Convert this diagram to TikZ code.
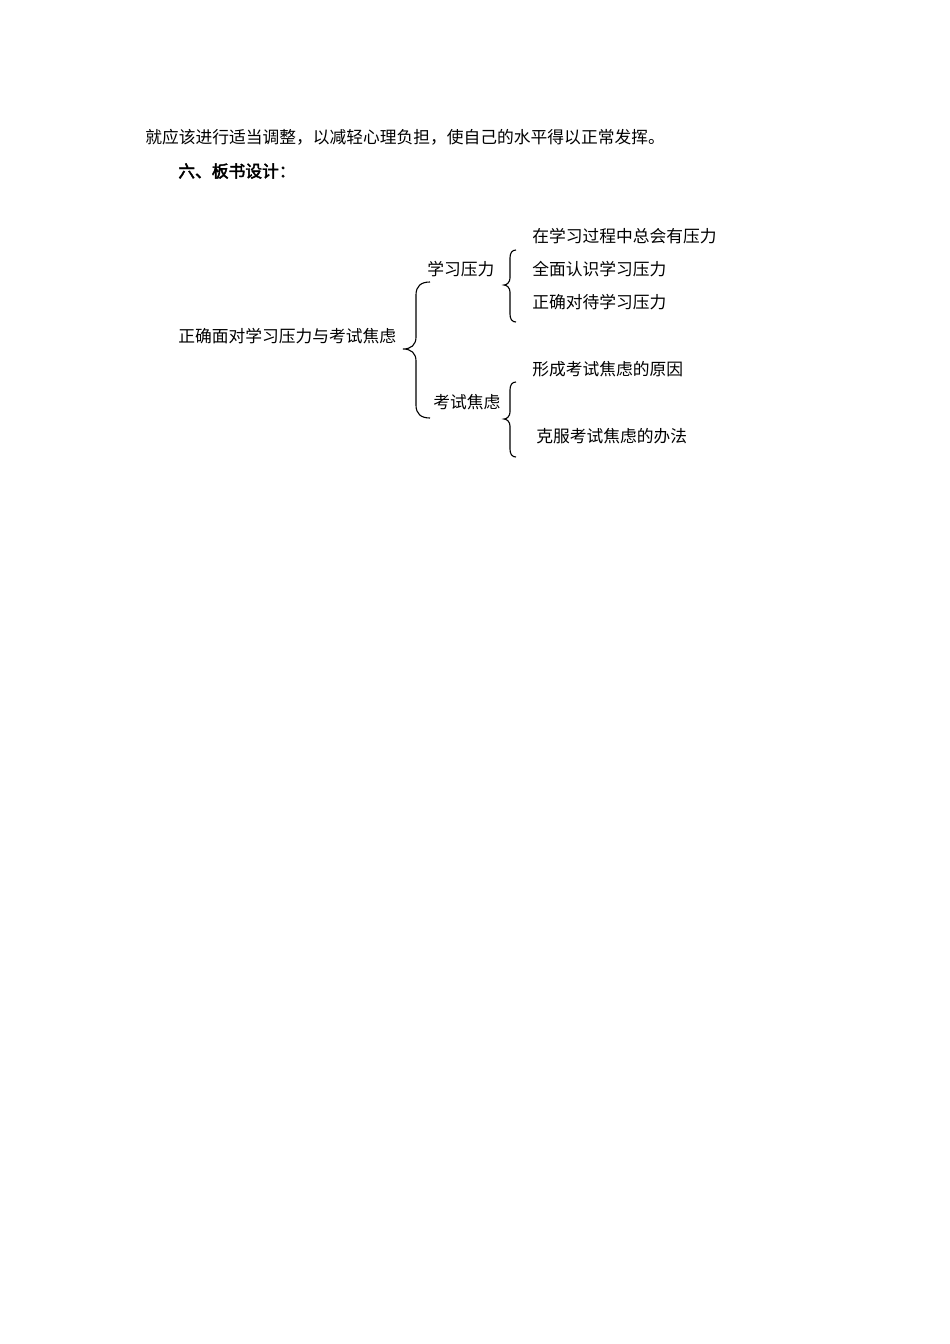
\documentclass[tikz,border=0pt]{standalone}
\usepackage{fontspec}
\newfontfamily\cjk[AutoFakeBold=2.5]{Noto Sans CJK SC}
\begin{document}
\begin{tikzpicture}[x=0.6266pt,y=-0.6266pt,
  txt/.style={anchor=west,inner sep=0pt,font=\cjk\fontsize{10.5pt}{12pt}\selectfont},
  head/.style={txt,font=\cjk\bfseries\fontsize{10.5pt}{12pt}\selectfont},
  bracepath/.style={draw=black,line width=0.7pt}]
\useasboundingbox[fill=white] (0,0) rectangle (950,1344);
\node[txt] (l1) at (145,137) {就应该进行适当调整，以减轻心理负担，使自己的水平得以正常发挥。};
\node[head] (h) at (178,171) {六、板书设计：};
\node[txt] (root) at (178,336) {正确面对学习压力与考试焦虑};
\node[txt] (a) at (427,269) {学习压力};
\node[txt] (b) at (433,402) {考试焦虑};
\node[txt] (a1) at (532,236) {在学习过程中总会有压力};
\node[txt] (a2) at (532,269) {全面认识学习压力};
\node[txt] (a3) at (532,302) {正确对待学习压力};
\node[txt] (b1) at (532,369) {形成考试焦虑的原因};
\node[txt] (b2) at (536,436) {克服考试焦虑的办法};
% big brace
\coordinate (B0t) at (430,282);
\coordinate (B0m) at (403,349);
\coordinate (B0b) at (430,418);
\draw[bracepath] (B0t) .. controls (421,282) and (416,286) .. (416,295) -- (416,337)
  .. controls (416,345) and (411,349) .. (B0m) .. controls (411,349) and (416,353) .. (416,361)
  -- (416,405) .. controls (416,414) and (421,418) .. (B0b);
% brace 1
\coordinate (B1t) at (516,250);
\coordinate (B1m) at (504,285);
\coordinate (B1b) at (516,322);
\draw[bracepath] (B1t) .. controls (512,250) and (510,253) .. (510,258) -- (510,278)
  .. controls (510,282) and (507,285) .. (B1m) .. controls (507,285) and (510,288) .. (510,292)
  -- (510,314) .. controls (510,319) and (512,322) .. (B1b);
% brace 2
\coordinate (B2t) at (516,382);
\coordinate (B2m) at (504,419);
\coordinate (B2b) at (516,457);
\draw[bracepath] (B2t) .. controls (512,382) and (510,385) .. (510,390) -- (510,412)
  .. controls (510,416) and (507,419) .. (B2m) .. controls (507,419) and (510,422) .. (510,426)
  -- (510,449) .. controls (510,454) and (512,457) .. (B2b);
\end{tikzpicture}
\end{document}
